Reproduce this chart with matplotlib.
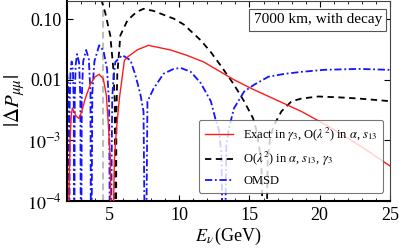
import matplotlib

matplotlib.use("Agg")
import matplotlib.pyplot as plt

# |Delta P_mumu|, 7000 km baseline with decay
red_E = [2.08, 2.15, 2.22, 2.30, 2.38, 2.50, 2.65, 2.85, 3.05, 3.30, 3.65, 4.00,
         4.29, 4.58, 4.80, 4.94, 5.08, 5.17, 5.37, 5.51, 5.73, 6.09, 6.30, 7.02,
         7.80, 9.38, 10.60, 11.75, 13.90, 15.12, 18.70, 20.64, 23.00, 25.15]
red_dP = [1e-5, 2e-4, 1.0e-3, 2.6e-3, 3.4e-3, 3.0e-3, 2.5e-3, 2.3e-3, 3.0e-3, 4.9e-3,
          8.3e-3, 0.0112, 0.0123, 0.0104, 5.6e-3, 1.9e-3, 5e-4, 1e-6, 4.6e-4, 1.43e-3,
          4.9e-3, 0.021, 0.0236, 0.0313, 0.037, 0.031, 0.025, 0.0196, 0.010, 7.2e-3,
          3.0e-3, 1.7e-3, 7.8e-4, 3.6e-4]

black_E = [4.40, 4.51, 4.72, 5.08, 5.30, 5.40, 5.47, 5.52, 5.58, 5.80, 6.30, 6.73,
           7.00, 7.45, 8.16, 8.88, 9.60, 10.32, 11.53, 12.25, 12.97, 13.90, 14.62,
           15.26, 15.48, 15.84, 16.12, 16.30, 16.45, 16.70, 17.27, 17.99, 18.70,
           19.92, 21.57, 22.79, 24.22, 25.15]
black_dP = [0.25, 0.185, 0.128, 0.054, 0.0151, 0.0044, 1e-6, 0.003, 0.012, 0.054,
            0.095, 0.118, 0.133, 0.148, 0.137, 0.118, 0.102, 0.0815, 0.0447, 0.0285,
            0.0169, 0.0083, 0.0044, 0.0023, 0.00154, 0.00046, 1e-6, 5e-4, 1e-3,
            1.7e-3, 3.0e-3, 4.4e-3, 4.9e-3, 5.3e-3, 5.1e-3, 4.9e-3, 4.6e-3, 4.4e-3]

blue_E = [2.00, 2.08, 2.13, 2.16, 2.19, 2.25, 2.33, 2.42, 2.48, 2.51, 2.55, 2.62,
          2.72, 2.86, 2.95, 3.00, 3.05, 3.15, 3.36, 3.55, 3.67, 3.72, 3.80, 3.95,
          4.29, 4.60, 4.85, 5.00, 5.08, 5.22, 5.30, 5.44, 5.94, 6.52, 6.87, 7.23,
          7.45, 7.59, 7.73, 8.16, 8.88, 9.60, 10.10, 10.82, 11.53, 12.25, 12.61,
          12.82, 13.00, 13.18, 13.35, 13.54, 13.90, 14.62, 15.34, 16.34, 17.48,
          18.70, 20.35, 22.79, 24.94, 25.15]
blue_dP = [0.0135, 0.008, 3e-3, 1e-6, 4e-3, 0.014, 0.02, 0.014, 4e-3, 1e-6, 5e-3, 0.018,
           0.0265, 0.019, 5e-3, 1e-6, 5e-3, 0.02, 0.031, 0.022, 6e-3, 1e-6, 6e-3, 0.02,
           0.037, 0.03, 0.015, 4e-3, 1e-6, 5e-3, 0.01, 0.0196, 0.0255, 0.021, 0.012,
           5.7e-3, 3.0e-3, 1e-6, 4.4e-3, 7.1e-3, 0.0126, 0.0151, 0.0157, 0.0135, 0.0088,
           4.4e-3, 2.1e-3, 1.5e-3, 6e-4, 1e-6, 8e-4, 1.6e-3, 3.4e-3, 6.4e-3, 8.3e-3,
           0.0112, 0.0125, 0.0135, 0.0146, 0.0151, 0.0146, 0.0146]

resonance_E = 4.58

y_ticks = [1e-4, 1e-3, 1e-2, 1e-1]
y_labels = [r"$10^{-4}$", r"$10^{-3}$", "0.01", "0.10"]
x_ticks = [5, 10, 15, 20, 25]

plt.rcParams["font.family"] = ["Liberation Serif", "DejaVu Serif"]
plt.rcParams["mathtext.fontset"] = "stix"

fig = plt.figure(figsize=(3.99, 2.52), dpi=100)
ax = fig.add_axes([0.168, 0.2024, 0.809, 0.794])

ax.axvline(resonance_E, color="#b0b0b0", lw=1.2, ls=(0, (4, 2.5)), zorder=1)
ax.plot(red_E, red_dP, color="#ff1a1a", lw=1.0,
        label=r"Exact in $\gamma_3$, O($\lambda^2$) in $\alpha$, $s_{13}$", zorder=3)
ax.plot(black_E, black_dP, color="black", lw=1.3, ls=(0, (3.5, 2.5)),
        label=r"O($\lambda^2$) in $\alpha$, $s_{13}$, $\gamma_3$", zorder=2)
ax.plot(blue_E, blue_dP, color="#1414ff", lw=1.3, ls=(0, (4, 1.5, 1, 1.5)),
        label="OMSD", zorder=2)

ax.set_yscale("log")
ax.set_xlim(2, 25)
ax.set_ylim(1e-4, 0.2)
ax.set_yticks(y_ticks)
ax.set_yticklabels(y_labels)
ax.minorticks_off()
ax.set_xticks(x_ticks)
ax.set_xticks(range(2, 26), minor=True)
ax.tick_params(which="both", direction="in", top=True, right=True, labelsize=13, pad=4)
ax.tick_params(which="major", length=4, width=0.8)
ax.tick_params(which="minor", length=2, width=0.6)

for side in ("left", "bottom"):
    ax.spines[side].set_linewidth(1.5)
for side in ("top", "right"):
    ax.spines[side].set_linewidth(0.8)
    ax.spines[side].set_color("#444444")

ax.set_xlabel(r"$E_\nu\,$(GeV)", fontsize=13, labelpad=2)
ax.set_ylabel(r"$|\Delta P_{\mu\mu}|$", fontsize=15, labelpad=0)

ax.text(0.975, 0.905, "7000 km, with decay", transform=ax.transAxes, ha="right", va="center",
        fontsize=11, bbox=dict(boxstyle="square,pad=0.28", fc="white", ec="#555555", lw=0.8))

leg = ax.legend(loc="lower right", bbox_to_anchor=(0.98, 0.04), borderaxespad=0, fontsize=9,
                handlelength=2.3, labelspacing=0.55, borderpad=0.45, framealpha=0.8,
                edgecolor="#555555", fancybox=True)
leg.get_frame().set_linewidth(0.8)

fig.savefig("out.png", dpi=100)
